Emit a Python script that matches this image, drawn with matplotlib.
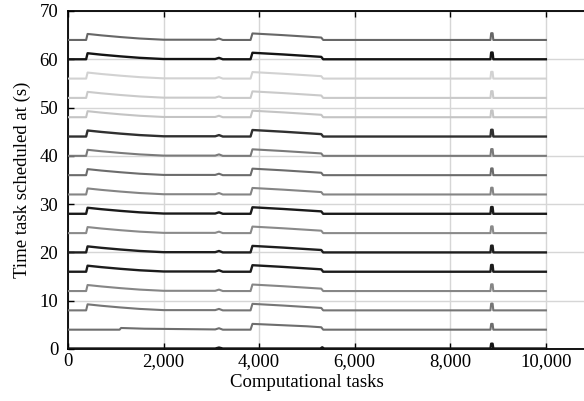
import matplotlib
matplotlib.use("Agg")
import numpy as np
import matplotlib.pyplot as plt
from matplotlib.ticker import StrMethodFormatter


# ----------------------------------------------------------------------
# data
# ----------------------------------------------------------------------

levels = [0, 4, 8, 12, 16, 20, 24, 28, 32, 36, 40, 44, 48, 52, 56, 60, 64]

line_colors = [
    "#141414", "#6e6e6e", "#767676", "#868686", "#1c1c1c", "#1e1e1e",
    "#8a8a8a", "#1a1a1a", "#858585", "#6c6c6c", "#7a7a7a", "#303030",
    "#c4c4c4", "#cacaca", "#d2d2d2", "#141414", "#676767",
]

# offset above the base level for most series
full_x = [0, 380, 410, 700, 1100, 1500, 2000, 3080, 3160, 3240, 3820, 3860,
          4500, 5300, 5340, 8840, 8855, 8885, 8900, 10000]
full_y = [0.0, 0.0, 1.25, 0.95, 0.6, 0.3, 0.05, 0.05, 0.3, 0.0, 0.0, 1.35,
          1.0, 0.5, 0.0, 0.0, 1.4, 1.4, 0.0, 0.0]

# series at level 4
low_x = [0, 1080, 1110, 1600, 3080, 3160, 3240, 3820, 3860, 5000, 5300,
         5340, 8840, 8855, 8885, 8900, 10000]
low_y = [0.0, 0.0, 0.35, 0.2, 0.05, 0.3, 0.0, 0.0, 1.2, 0.7, 0.5, 0.0, 0.0,
         1.2, 1.2, 0.0, 0.0]

# series at level 0
base_x = [0, 3080, 3160, 3240, 5280, 5320, 5360, 8840, 8855, 8885, 8900, 10000]
base_y = [0.1, 0.1, 0.3, 0.1, 0.1, 0.35, 0.1, 0.1, 1.1, 1.1, 0.1, 0.1]

x_ticks = [0, 2000, 4000, 6000, 8000, 10000]
y_ticks = [0, 10, 20, 30, 40, 50, 60, 70]


def main():
    plt.rcParams["font.family"] = ["Liberation Serif", "DejaVu Serif"]
    fig = plt.figure(figsize=(5.84, 4.01), dpi=100)
    # axes runs past the right edge, as in the cropped original
    ax = fig.add_axes([0.1164, 0.1297, 0.982, 0.8429])

    for lvl, col in zip(levels, line_colors):
        if lvl == 0:
            xs, ys = base_x, base_y
        elif lvl == 4:
            xs, ys = low_x, low_y
        else:
            xs, ys = full_x, full_y
        lw = 1.7 if col < "#40" else 1.5
        ax.plot(xs, np.array(ys) + lvl, color=col, linewidth=lw, zorder=3)

    ax.set_xlim(0, 12000)
    ax.set_ylim(0, 70)
    ax.set_xticks(x_ticks)
    ax.set_yticks(y_ticks)
    ax.xaxis.set_major_formatter(StrMethodFormatter("{x:,.0f}"))
    ax.grid(True, color="#d6d6d6", linewidth=1.0, zorder=0)
    ax.tick_params(direction="in", length=4, width=1, labelsize=13.5,
                   top=True, right=True, colors="black")
    ax.tick_params(axis="x", pad=3)
    ax.tick_params(axis="y", pad=7)
    for s in ax.spines.values():
        s.set_linewidth(1.3)

    ax.set_ylabel("Time task scheduled at (s)", fontsize=13.5, labelpad=6)
    ax.set_xlabel("Computational tasks", fontsize=13.5)
    ax.xaxis.set_label_coords(5000 / 12000, -0.075)

    fig.savefig("out.png", dpi=100)


if __name__ == "__main__":
    main()
